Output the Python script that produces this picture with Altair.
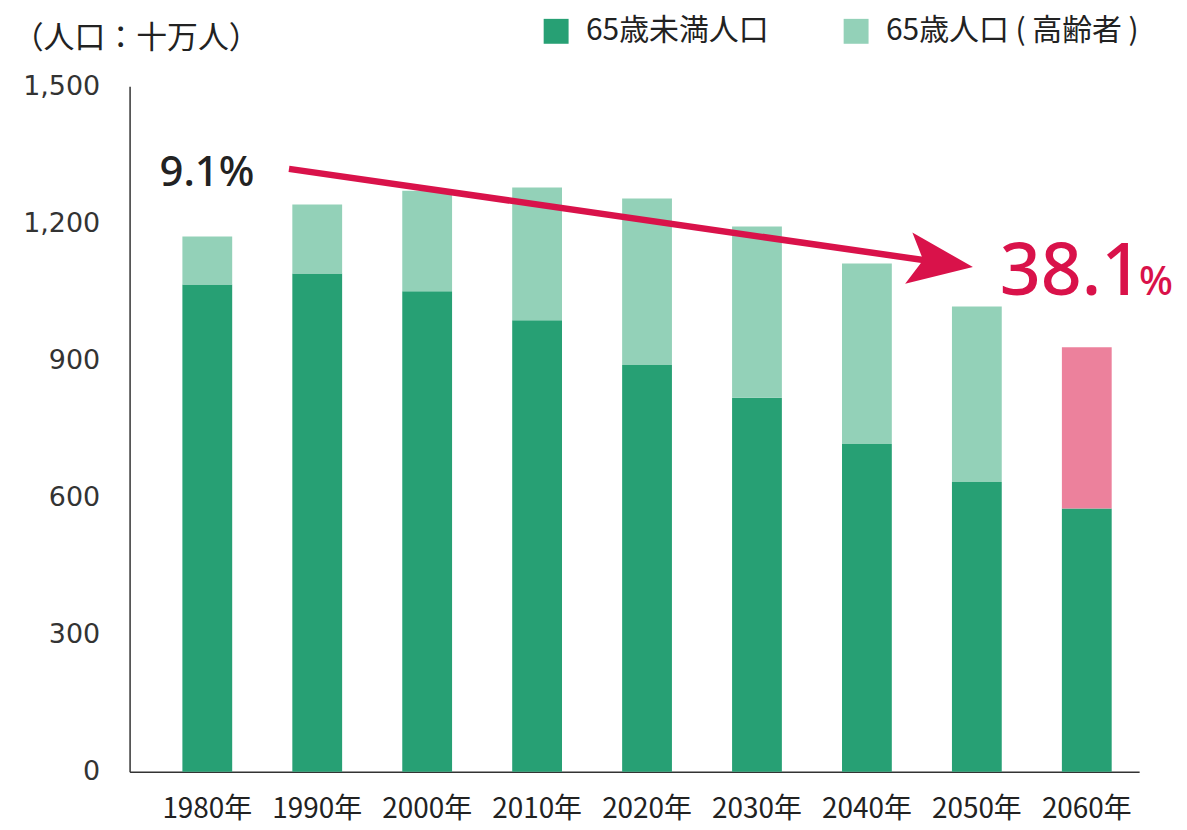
import altair as alt
import pandas as pd

# ---- data ----
years = ["1980年", "1990年", "2000年", "2010年", "2020年", "2030年", "2040年", "2050年", "2060年"]
under65 = [1066, 1090, 1051, 988, 890, 818, 717, 634, 576]
over65 = [105, 151, 220, 290, 364, 375, 395, 384, 353]

cat_under = "65歳未満人口"
cat_over = "65歳人口 ( 高齢者 )"
cat_hi = "65歳人口 ( 高齢者 ) 2060"
highlight_year = "2060年"

y_ticks = [0, 300, 600, 900, 1200, 1500]
unit_label = "（人口：十万人）"

# annotation positions (x in bar-index units, y in data units)
arrow_u = [0.743, 6.673]
arrow_v = [1319, 1114]
start_label = ["9.1%"]
start_u = [-0.435]
start_v = [1282]
end_label = ["38.1"]
end_u = [7.208]
end_v = [1042]
pct_label = ["%"]
pct_u = [8.475]
unit_u = [-1.77]
unit_v = [1583]

DARK = "#27a074"
LIGHT = "#93d1b8"
PINK = "#ec819c"
RED = "#d9124a"

rows = []
for i, yr in enumerate(years):
    rows.append({"year": yr, "cat": cat_under, "value": under65[i], "ord": 0})
    rows.append({"year": yr, "cat": cat_hi if yr == highlight_year else cat_over,
                 "value": over65[i], "ord": 1})
df = pd.DataFrame(rows)

W, H = 1013, 688
yscale = alt.Scale(domain=[0, 1500], nice=False, zero=True)
xq = alt.Scale(domain=[-0.707, 8.477], nice=False, zero=False)

bars = alt.Chart(df).mark_bar().encode(
    x=alt.X("year:N", sort=years, title=None,
            scale=alt.Scale(paddingInner=0.547, paddingOuter=0.365, align=0.658),
            axis=alt.Axis(labelAngle=0, labelFont="Noto Sans CJK JP", labelFontSize=28,
                          labelColor="#222", labelPadding=24, ticks=False,
                          domainColor="#333", domainWidth=1.5)),
    y=alt.Y("value:Q", stack="zero", scale=yscale, title=None,
            axis=alt.Axis(values=y_ticks, labelExpr="format(datum.value, ',d')",
                          grid=False, ticks=False,
                          labelFont="DejaVu Sans", labelFontSize=27, labelColor="#333",
                          labelPadding=30, domainColor="#333", domainWidth=1.5)),
    color=alt.Color("cat:N",
                    scale=alt.Scale(domain=[cat_under, cat_over, cat_hi],
                                    range=[DARK, LIGHT, PINK]),
                    legend=alt.Legend(values=[cat_under, cat_over], title=None,
                                      orient="none", legendX=413, legendY=-70,
                                      direction="horizontal", symbolType="square",
                                      symbolSize=625, symbolStrokeWidth=0,
                                      labelFont="Noto Sans CJK JP", labelFontSize=30,
                                      labelColor="#222", labelOffset=15,
                                      columnPadding=72, labelLimit=500)),
    order=alt.Order("ord:Q", sort="ascending"),
)

line_df = pd.DataFrame({"u": [arrow_u[0]], "v": [arrow_v[0]],
                        "u2": [arrow_u[1]], "v2": [arrow_v[1]]})
arrow_line = alt.Chart(line_df).mark_rule(color=RED, strokeWidth=6.5).encode(
    x=alt.X("u:Q", scale=xq, axis=None), x2="u2:Q",
    y=alt.Y("v:Q", scale=yscale, title=None), y2="v2:Q",
)

head_df = pd.DataFrame({"u": [arrow_u[1]], "v": [arrow_v[1]]})
arrow_head = alt.Chart(head_df).mark_point(
    shape="M-1,-0.8L1,0L-1,0.8L-0.55,0Z", filled=True, size=4225, angle=8,
    color=RED, opacity=1, strokeWidth=0,
).encode(
    x=alt.X("u:Q", scale=xq, axis=None),
    y=alt.Y("v:Q", scale=yscale, title=None),
)

t_start = alt.Chart(pd.DataFrame({"u": start_u, "v": start_v, "t": start_label})).mark_text(
    align="left", baseline="alphabetic", font="Noto Sans", fontSize=42, fontWeight=500, color="#222"
).encode(x=alt.X("u:Q", scale=xq, axis=None), y=alt.Y("v:Q", scale=yscale, title=None), text="t:N")

t_end = alt.Chart(pd.DataFrame({"u": end_u, "v": end_v, "t": end_label})).mark_text(
    align="left", baseline="alphabetic", font="Noto Sans", fontSize=72, fontWeight=500, color=RED
).encode(x=alt.X("u:Q", scale=xq, axis=None), y=alt.Y("v:Q", scale=yscale, title=None), text="t:N")

t_pct = alt.Chart(pd.DataFrame({"u": pct_u, "v": end_v, "t": pct_label})).mark_text(
    align="left", baseline="alphabetic", font="Noto Sans", fontSize=40, fontWeight=500, color=RED
).encode(x=alt.X("u:Q", scale=xq, axis=None), y=alt.Y("v:Q", scale=yscale, title=None), text="t:N")

t_unit = alt.Chart(pd.DataFrame({"u": unit_u, "v": unit_v, "t": [unit_label]})).mark_text(
    align="left", baseline="alphabetic", font="Noto Sans CJK JP", fontSize=31, color="#222"
).encode(x=alt.X("u:Q", scale=xq, axis=None), y=alt.Y("v:Q", scale=yscale, title=None), text="t:N")

chart = alt.layer(bars, arrow_line, arrow_head, t_start, t_end, t_pct, t_unit).resolve_scale(
    x="independent"
).properties(
    width=W, height=H,
    autosize=alt.AutoSizeParams(type="none"),
    padding={"left": 122, "top": 77, "right": 40, "bottom": 52},
).configure_view(stroke=None)

chart.save("out.html", embed_options={"renderer": "svg", "actions": False})
